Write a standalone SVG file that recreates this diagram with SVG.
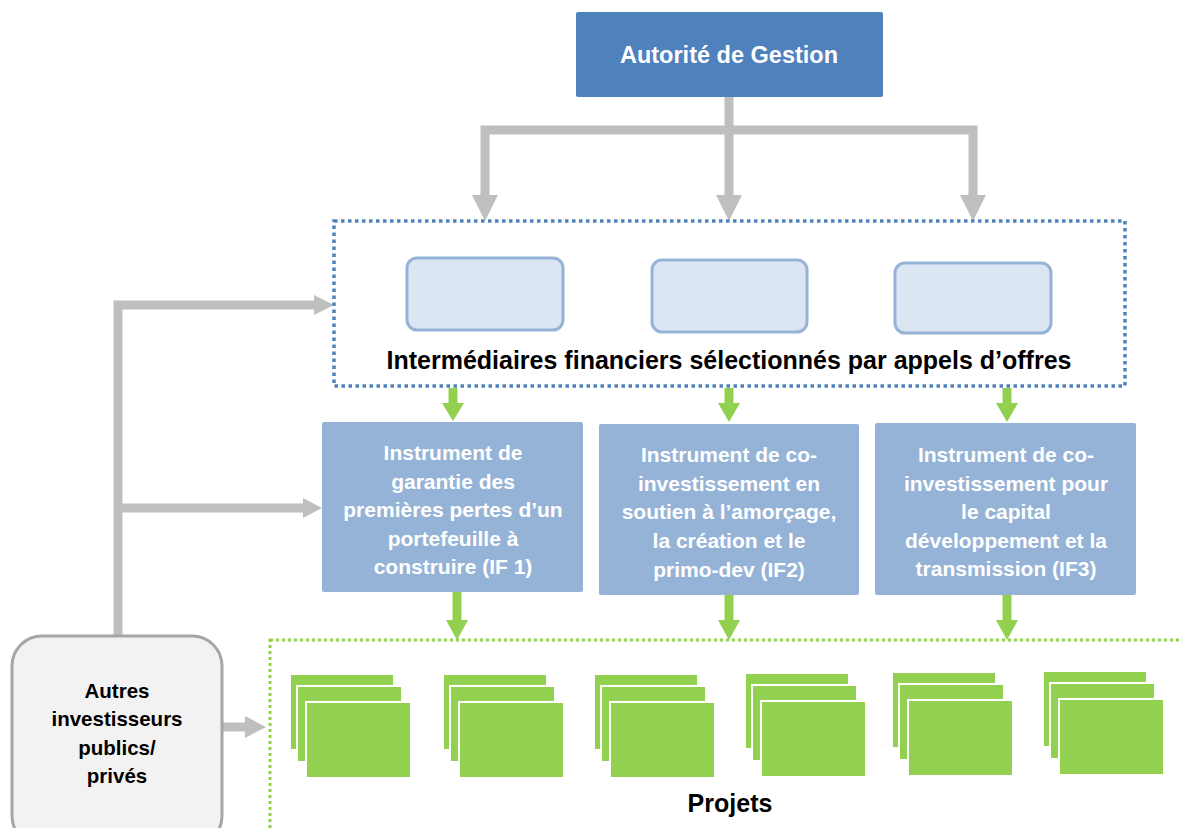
<svg xmlns="http://www.w3.org/2000/svg" width="1180" height="828" viewBox="0 0 1180 828">
<style>
.t{font-family:"Liberation Sans",Arial,sans-serif;font-weight:bold;text-anchor:middle}
.w{fill:#fff;font-size:21px}
.gray{fill:none;stroke:#BFBFBF;stroke-width:9}
.gh{fill:#BFBFBF}
.grn{fill:none;stroke:#92D050;stroke-width:9}
.gnh{fill:#92D050}
.pr{fill:#92D050;stroke:#fff;stroke-width:2}
.ib{fill:#DCE6F2;stroke:#95B3D7;stroke-width:3}
.ifb{fill:#95B3D7}
</style>
<rect width="1180" height="828" fill="#fff"/>

<g id="connectors">
<path class="gray" d="M729,97 V196"/>
<polygon class="gh" points="716,195 742,195 729,221"/>
<path class="gray" d="M485,196 V130 H973 V196"/>
<polygon class="gh" points="472,195 498,195 485,221"/>
<polygon class="gh" points="960,195 986,195 973,221"/>
<path class="gray" d="M118,636 V305 H315" stroke-width="8"/>
<polygon class="gh" points="314,295 314,315 334,305"/>
<path class="gray" d="M118,508 H304" stroke-width="8"/>
<polygon class="gh" points="303,498 303,518 322,508"/>
<path class="gray" d="M222,727 H247" stroke-width="8"/>
<polygon class="gh" points="245,716 245,738 266,727"/>
<path class="grn" d="M453,388 V404"/>
<polygon class="gnh" points="442,403 464,403 453,421"/>
<path class="grn" d="M729,388 V404"/>
<polygon class="gnh" points="718,403 740,403 729,422"/>
<path class="grn" d="M1007,388 V404"/>
<polygon class="gnh" points="996,403 1018,403 1007,422"/>
<path class="grn" d="M457,592 V621"/>
<polygon class="gnh" points="446,620 468,620 457,640"/>
<path class="grn" d="M729,595 V621"/>
<polygon class="gnh" points="718,620 740,620 729,640"/>
<path class="grn" d="M1007,595 V621"/>
<polygon class="gnh" points="996,620 1018,620 1007,640"/>
</g>

<g id="autorite">
<rect x="576" y="12" width="307" height="85" rx="2" fill="#4F81BD"/>
<text class="t" x="729" y="63" font-size="23.5" fill="#fff">Autorité de Gestion</text>
</g>

<g id="intermediaires">
<rect x="334" y="221" width="791" height="165" fill="none" stroke="#4F81BD" stroke-width="3.5" stroke-dasharray="3.5 3.5"/>
<rect class="ib" x="407" y="258" width="156" height="72" rx="10"/>
<rect class="ib" x="652" y="260" width="155" height="72" rx="10"/>
<rect class="ib" x="895" y="263" width="156" height="70" rx="10"/>
<text class="t" x="729" y="369" font-size="25" fill="#000">Intermédiaires financiers sélectionnés par appels d’offres</text>
</g>

<g id="if1">
<rect class="ifb" x="322" y="422" width="261" height="170" rx="2"/>
<text class="t w" x="453" y="460">Instrument de</text>
<text class="t w" x="453" y="489">garantie des</text>
<text class="t w" x="453" y="517">premières pertes d’un</text>
<text class="t w" x="453" y="546">portefeuille à</text>
<text class="t w" x="453" y="574">construire (IF 1)</text>
</g>

<g id="if2">
<rect class="ifb" x="599" y="424" width="260" height="171" rx="2"/>
<text class="t w" x="729" y="462">Instrument de co-</text>
<text class="t w" x="729" y="491">investissement en</text>
<text class="t w" x="729" y="519">soutien à l’amorçage,</text>
<text class="t w" x="729" y="548">la création et le</text>
<text class="t w" x="729" y="577">primo-dev (IF2)</text>
</g>

<g id="if3">
<rect class="ifb" x="875" y="423" width="261" height="172" rx="2"/>
<text class="t w" x="1006" y="462">Instrument de co-</text>
<text class="t w" x="1006" y="491">investissement pour</text>
<text class="t w" x="1006" y="519">le capital</text>
<text class="t w" x="1006" y="548">développement et la</text>
<text class="t w" x="1006" y="576">transmission (IF3)</text>
</g>

<g id="autres">
<rect x="12" y="636" width="210" height="210" rx="30" fill="#F2F2F2" stroke="#A6A6A6" stroke-width="3"/>
<text class="t" x="117" y="698" font-size="20.5" fill="#000">Autres</text>
<text class="t" x="117" y="726" font-size="20.5" fill="#000">investisseurs</text>
<text class="t" x="117" y="755" font-size="20.5" fill="#000">publics/</text>
<text class="t" x="117" y="783" font-size="20.5" fill="#000">privés</text>
</g>

<g id="projets">
<rect x="270" y="640" width="930" height="220" fill="none" stroke="#92D050" stroke-width="3" stroke-dasharray="3 3"/>
<g id="stack1" transform="translate(290,674)">
<rect class="pr" x="0" y="0" width="104" height="76"/><rect class="pr" x="7" y="12" width="105" height="76"/><rect class="pr" x="16" y="28" width="105" height="76"/>
</g>
<g id="stack2" transform="translate(443,674)">
<rect class="pr" x="0" y="0" width="104" height="76"/><rect class="pr" x="7" y="12" width="105" height="76"/><rect class="pr" x="16" y="28" width="105" height="76"/>
</g>
<g id="stack3" transform="translate(594,674)">
<rect class="pr" x="0" y="0" width="104" height="76"/><rect class="pr" x="7" y="12" width="105" height="76"/><rect class="pr" x="16" y="28" width="105" height="76"/>
</g>
<g id="stack4" transform="translate(745,673)">
<rect class="pr" x="0" y="0" width="104" height="76"/><rect class="pr" x="7" y="12" width="105" height="76"/><rect class="pr" x="16" y="28" width="105" height="76"/>
</g>
<g id="stack5" transform="translate(892,672)">
<rect class="pr" x="0" y="0" width="104" height="76"/><rect class="pr" x="7" y="12" width="105" height="76"/><rect class="pr" x="16" y="28" width="105" height="76"/>
</g>
<g id="stack6" transform="translate(1043,671)">
<rect class="pr" x="0" y="0" width="104" height="76"/><rect class="pr" x="7" y="12" width="105" height="76"/><rect class="pr" x="16" y="28" width="105" height="76"/>
</g>
<text class="t" x="730" y="812" font-size="25" fill="#000">Projets</text>
</g>
</svg>
